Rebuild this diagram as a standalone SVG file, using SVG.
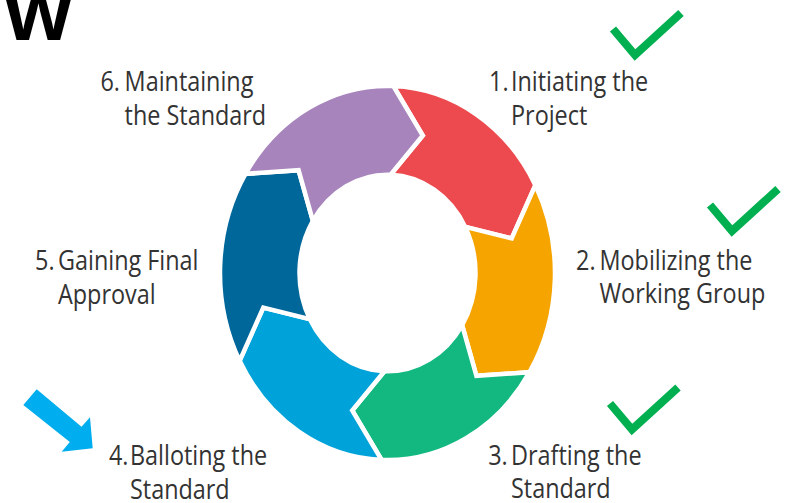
<svg xmlns="http://www.w3.org/2000/svg" width="787" height="503" viewBox="0 0 787 503">
  <defs>
    <style>
      .seg { stroke: #FFFFFF; stroke-width: 4.5; stroke-linejoin: miter; vector-effect: non-scaling-stroke; }
      .lbl { font-family: "Open Sans", "Noto Sans", "DejaVu Sans", sans-serif; font-size: 26.5px; fill: #333333; }
      .check { fill: none; stroke: #00B050; stroke-width: 8; stroke-linejoin: miter; stroke-linecap: butt; }
    </style>
    <polyline id="tick" class="check" points="-22,-26 0,0 46,-42"/>
  </defs>
  <rect width="787" height="503" fill="#FFFFFF"/>

  <text x="5" y="39.5" font-family="'Liberation Sans', Arial, sans-serif" font-weight="bold" font-size="86" fill="#000000">w</text>

  <g transform="translate(387.5,273) scale(1,1.117)">
    <g id="step1">
      <path class="seg" fill="#EC4A4E" d="M 5.85,-167.4 A 167.5 167.5 0 0 1 147.89,-78.64 L 124.2,-30.96 L 77.7,-41.32 A 88 88 0 0 0 3.07,-87.95 L 35.28,-123.05 Z"/>
    </g>
    <g id="step2">
      <path class="seg" fill="#F5A400" d="M 147.89,-78.64 A 167.5 167.5 0 0 1 142.04,88.76 L 88.92,92.07 L 74.62,46.63 A 88 88 0 0 0 77.7,-41.32 L 124.2,-30.96 Z"/>
    </g>
    <g id="step3">
      <path class="seg" fill="#12B880" d="M 142.04,88.76 A 167.5 167.5 0 0 1 -5.85,167.4 L -35.28,123.05 L -3.07,87.95 A 88 88 0 0 0 74.62,46.63 L 88.92,92.07 Z"/>
    </g>
    <g id="step4">
      <path class="seg" fill="#00A3D9" d="M -5.85,167.4 A 167.5 167.5 0 0 1 -147.89,78.64 L -124.2,30.96 L -77.7,41.32 A 88 88 0 0 0 -3.07,87.95 L -35.28,123.05 Z"/>
    </g>
    <g id="step5">
      <path class="seg" fill="#00679B" d="M -147.89,78.64 A 167.5 167.5 0 0 1 -142.04,-88.76 L -88.92,-92.07 L -74.62,-46.63 A 88 88 0 0 0 -77.7,41.32 L -124.2,30.96 Z"/>
    </g>
    <g id="step6">
      <path class="seg" fill="#A784BC" d="M -142.04,-88.76 A 167.5 167.5 0 0 1 5.85,-167.4 L 35.28,-123.05 L 3.07,-87.95 A 88 88 0 0 0 -74.62,-46.63 L -88.92,-92.07 Z"/>
    </g>
  </g>

  <g id="label1">
    <text class="lbl" transform="translate(511,90.5) scale(0.883,1)"><tspan x="-24.9" y="0">1.</tspan><tspan x="0" y="0">Initiating the</tspan><tspan x="0" y="34.5">Project</tspan></text>
  </g>
  <g id="label2">
    <text class="lbl" transform="translate(599.5,269.5) scale(0.883,1)"><tspan x="-26.6" y="0">2.</tspan><tspan x="0" y="0">Mobilizing the</tspan><tspan x="0" y="33.5">Working Group</tspan></text>
  </g>
  <g id="label3">
    <text class="lbl" transform="translate(511,464.5) scale(0.883,1)"><tspan x="-25.8" y="0">3.</tspan><tspan x="0" y="0">Drafting the</tspan><tspan x="0" y="34">Standard</tspan></text>
  </g>
  <g id="label4">
    <text class="lbl" transform="translate(130,465) scale(0.883,1)"><tspan x="-23.8" y="0">4.</tspan><tspan x="0" y="0">Balloting the</tspan><tspan x="0" y="34">Standard</tspan></text>
  </g>
  <g id="label5">
    <text class="lbl" transform="translate(58,270) scale(0.883,1)"><tspan x="-26" y="0">5.</tspan><tspan x="0" y="0">Gaining Final</tspan><tspan x="0" y="34">Approval</tspan></text>
  </g>
  <g id="label6">
    <text class="lbl" transform="translate(124.6,90.7) scale(0.883,1)"><tspan x="-27.3" y="0">6.</tspan><tspan x="0" y="0">Maintaining</tspan><tspan x="0" y="34.3">the Standard</tspan></text>
  </g>

  <g id="checks">
    <use href="#tick" x="635" y="55"/>
    <use href="#tick" x="732" y="231"/>
    <use href="#tick" x="632" y="429.5"/>
  </g>

  <g id="pointer">
    <polygon fill="#00AEEF" points="36.7,389.3 81.5,426.8 90,417.3 92.7,448.3 61.7,451.7 69.8,441.9 23.3,405"/>
  </g>
</svg>
